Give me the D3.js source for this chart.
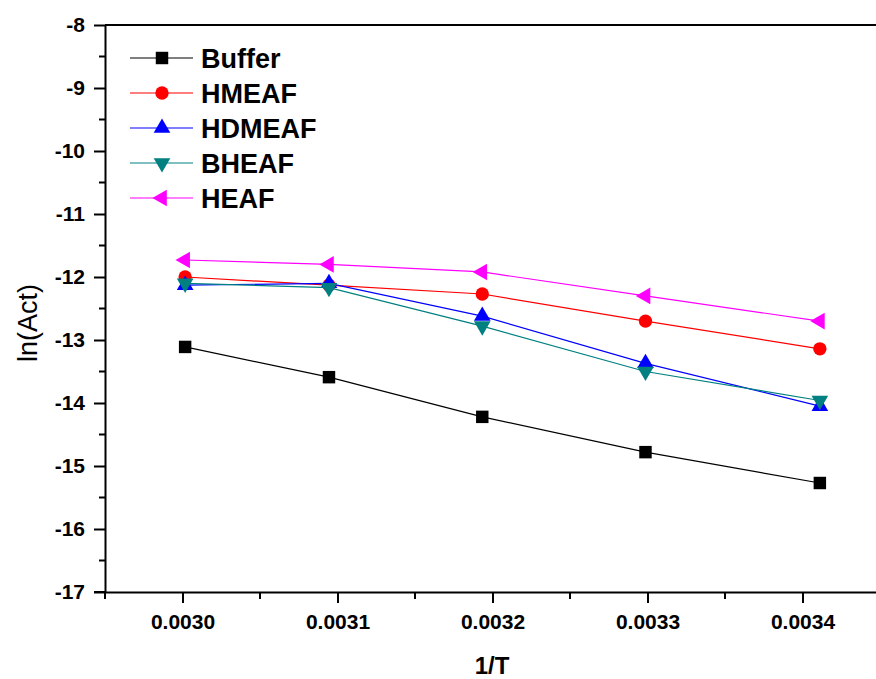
<!DOCTYPE html>
<html>
<head>
<meta charset="utf-8">
<script src="https://cdn.jsdelivr.net/npm/d3@7"></script>
<style>
  body { margin: 0; background: #fff; }
  text { font-family: "Liberation Sans", Arial, sans-serif; }
</style>
</head>
<body>
<svg id="chart" width="876" height="679"></svg>
<script>
// 1/T values (K^-1)
const invT = [0.0030017, 0.0030945, 0.0031934, 0.0032987, 0.0034112];

const buffer = [-13.11, -13.59, -14.22, -14.78, -15.27];
const hmeaf  = [-12.00, -12.13, -12.27, -12.70, -13.14];
const hdmeaf = [-12.13, -12.10, -12.62, -13.37, -14.05];
const bheaf  = [-12.10, -12.17, -12.78, -13.50, -13.96];
const heaf   = [-11.73, -11.80, -11.92, -12.30, -12.70];

const seriesNames = ['Buffer', 'HMEAF', 'HDMEAF', 'BHEAF', 'HEAF'];
const xTicks = [0.0030, 0.0031, 0.0032, 0.0033, 0.0034];
const yTicks = [-17, -16, -15, -14, -13, -12, -11, -10, -9, -8];

const series = [
  { name: 'Buffer', values: buffer, color: '#000000', shape: 'square' },
  { name: 'HMEAF',  values: hmeaf,  color: '#ff0000', shape: 'circle' },
  { name: 'HDMEAF', values: hdmeaf, color: '#0000ff', shape: 'up' },
  { name: 'BHEAF',  values: bheaf,  color: '#008080', shape: 'down' },
  { name: 'HEAF',   values: heaf,   color: '#ff00ff', shape: 'left' }
];

const svg = d3.select('#chart'),
      margin = { top: 25, right: -4, bottom: 87, left: 105 },
      width = +svg.attr('width') - margin.left - margin.right,
      height = +svg.attr('height') - margin.top - margin.bottom;

const g = svg.append('g')
    .attr('transform', `translate(${margin.left},${margin.top})`);

const x = d3.scaleLinear().domain([0.00295, 0.00345]).range([0, width]);
const y = d3.scaleLinear().domain([-17, -8]).range([height, 0]);

// frame (top line, right edge off-screen)
g.append('line')
  .attr('x1', 0).attr('x2', width).attr('y1', 0).attr('y2', 0)
  .attr('stroke', '#000').attr('stroke-width', 2);

// minor ticks
const xMinor = [0.00295, 0.00305, 0.00315, 0.00325, 0.00335];
const yMinor = d3.range(-16.5, -8, 1);

g.selectAll('.xminor').data(xMinor).enter().append('line')
  .attr('x1', d => x(d)).attr('x2', d => x(d))
  .attr('y1', height).attr('y2', height + 7)
  .attr('stroke', '#000').attr('stroke-width', 2);

g.selectAll('.yminor').data(yMinor).enter().append('line')
  .attr('x1', -6).attr('x2', 0)
  .attr('y1', d => y(d)).attr('y2', d => y(d))
  .attr('stroke', '#000').attr('stroke-width', 2);

const xAxis = g.append('g')
    .attr('transform', `translate(0,${height})`)
    .call(d3.axisBottom(x).tickValues(xTicks).tickFormat(d3.format('.4f')).tickSize(11).tickSizeOuter(0).tickPadding(11));

const yAxis = g.append('g')
    .call(d3.axisLeft(y).tickValues(yTicks).tickFormat(d => d).tickSize(11).tickSizeOuter(0).tickPadding(9));

[xAxis, yAxis].forEach(a => {
  a.select('.domain').attr('stroke-width', 2);
  a.selectAll('.tick line').attr('stroke-width', 2);
  a.selectAll('.tick text')
    .style('font-family', '"Liberation Sans", Arial, sans-serif')
    .style('font-size', '21px')
    .style('font-weight', 'bold')
    .attr('fill', '#000');
});
// extend x domain line left to meet the tick on the y axis
g.append('line')
  .attr('x1', -11).attr('x2', 0).attr('y1', height).attr('y2', height)
  .attr('stroke', '#000').attr('stroke-width', 2);

svg.append('text')
  .attr('transform', 'rotate(-90)')
  .attr('x', -323)
  .attr('y', 37)
  .attr('text-anchor', 'middle')
  .style('font-size', '27px')
  .text('ln(Act)');

svg.append('text')
  .attr('x', 492)
  .attr('y', 674)
  .attr('text-anchor', 'middle')
  .style('font-size', '24px')
  .style('font-weight', 'bold')
  .text('1/T');

// marker paths
function markerPath(shape) {
  if (shape === 'square') return d3.symbol(d3.symbolSquare, 155)();
  if (shape === 'circle') return d3.symbol(d3.symbolCircle, 140)();
  return d3.symbol(d3.symbolTriangle, 120)();
}
function markerRotate(shape) {
  if (shape === 'down') return 180;
  if (shape === 'left') return -90;
  return 0;
}

const line = d3.line()
  .x((d, i) => x(invT[i]))
  .y(d => y(d));

series.forEach(s => {
  g.append('path')
    .datum(s.values)
    .attr('fill', 'none')
    .attr('stroke', s.color)
    .attr('stroke-width', 1.2)
    .attr('d', line);

  g.selectAll(null)
    .data(s.values)
    .enter().append('path')
      .attr('d', markerPath(s.shape))
      .attr('transform', (d, i) => `translate(${x(invT[i])},${y(d)}) rotate(${markerRotate(s.shape)})`)
      .attr('fill', s.color);
});

// legend
const legend = svg.append('g').attr('transform', 'translate(130,58)');
series.forEach((s, i) => {
  const row = legend.append('g').attr('transform', `translate(0,${i * 35})`);
  row.append('line')
    .attr('x1', 0).attr('x2', 63).attr('y1', 0).attr('y2', 0)
    .attr('stroke', s.color).attr('stroke-width', 1.2);
  row.append('path')
    .attr('d', markerPath(s.shape))
    .attr('transform', `translate(32,0) rotate(${markerRotate(s.shape)})`)
    .attr('fill', s.color);
  row.append('text')
    .attr('x', 71)
    .attr('y', 9.5)
    .style('font-size', '27px')
    .style('font-weight', 'bold')
    .text(seriesNames[i]);
});
</script>
</body>
</html>
